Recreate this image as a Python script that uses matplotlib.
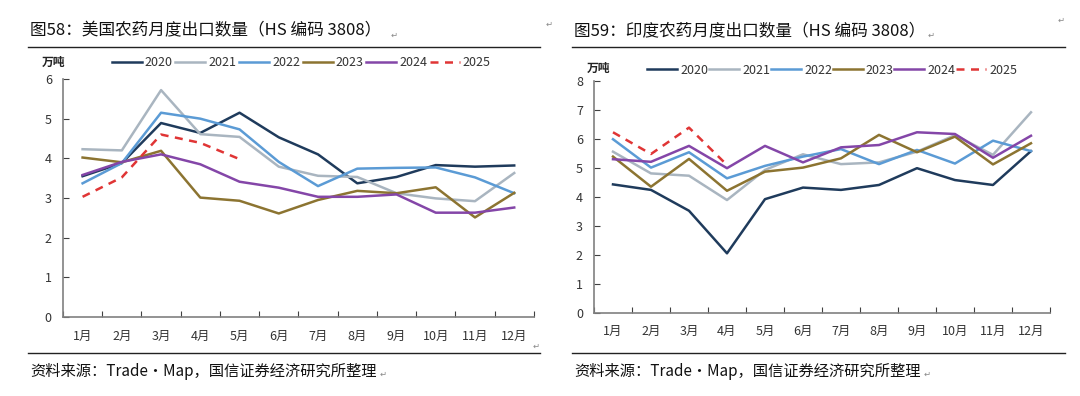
import matplotlib.pyplot as plt
from matplotlib.lines import Line2D

plt.rcParams['font.family'] = ['Noto Sans CJK SC', 'DejaVu Sans']

months = ['1月', '2月', '3月', '4月', '5月', '6月', '7月', '8月', '9月', '10月', '11月', '12月']
years = ['2020', '2021', '2022', '2023', '2024', '2025']

# 美国 (万吨)
us_2020 = [3.55, 3.88, 4.89, 4.64, 5.15, 4.53, 4.10, 3.37, 3.53, 3.83, 3.79, 3.82]
us_2021 = [4.23, 4.20, 5.72, 4.61, 4.54, 3.79, 3.56, 3.53, 3.12, 2.99, 2.92, 3.63]
us_2022 = [3.37, 3.88, 5.15, 5.00, 4.73, 3.91, 3.30, 3.74, 3.76, 3.77, 3.52, 3.12]
us_2023 = [4.02, 3.90, 4.19, 3.01, 2.93, 2.61, 2.95, 3.18, 3.12, 3.27, 2.51, 3.13]
us_2024 = [3.58, 3.91, 4.10, 3.85, 3.41, 3.26, 3.03, 3.03, 3.09, 2.63, 2.63, 2.76]
us_2025 = [3.03, 3.52, 4.60, 4.39, 3.98]

# 印度 (万吨)
in_2020 = [4.43, 4.24, 3.52, 2.05, 3.92, 4.32, 4.24, 4.41, 4.99, 4.58, 4.41, 5.58]
in_2021 = [5.56, 4.81, 4.73, 3.89, 4.93, 5.47, 5.13, 5.19, 5.56, 6.13, 5.45, 6.92]
in_2022 = [5.99, 5.01, 5.54, 4.64, 5.07, 5.39, 5.65, 5.13, 5.62, 5.15, 5.94, 5.58]
in_2023 = [5.39, 4.35, 5.31, 4.21, 4.87, 5.01, 5.33, 6.14, 5.54, 6.08, 5.12, 5.85]
in_2024 = [5.30, 5.21, 5.76, 4.99, 5.76, 5.19, 5.71, 5.79, 6.23, 6.17, 5.35, 6.11]
in_2025 = [6.23, 5.48, 6.39, 5.10]

colors = ['#1f3b5c', '#a9b5c0', '#5b9bd5', '#8c7431', '#8446a8', '#e03535']
styles = ['-', '-', '-', '-', '-', (0, (3.2, 2.6))]

us_series = [us_2020, us_2021, us_2022, us_2023, us_2024, us_2025]
in_series = [in_2020, in_2021, in_2022, in_2023, in_2024, in_2025]

fig = plt.figure(figsize=(10.8, 3.96), dpi=100)
ax1 = fig.add_axes([0.0583, 0.1995, 0.436, 0.601])
ax2 = fig.add_axes([0.55, 0.2104, 0.4222, 0.585])


def draw(ax, series, ymax):
    for vals, c, ls in zip(series, colors, styles):
        x = list(range(1, len(vals) + 1))
        ax.plot(x, vals, color=c, lw=1.8, ls=ls)
    ax.set_xlim(0.5, 12.5)
    ax.set_ylim(0, ymax)
    ax.set_yticks(range(0, ymax + 1))
    ax.set_xticks([i + 0.5 for i in range(13)])
    ax.set_xticklabels([])
    ax.set_xticks(range(1, 13), minor=True)
    ax.set_xticklabels(months, minor=True)
    ax.tick_params(axis='x', which='major', direction='in', length=4, color='#404040')
    ax.tick_params(axis='x', which='minor', length=0, pad=9, labelsize=9, labelcolor='#333333')
    ax.tick_params(axis='y', direction='in', length=4, pad=8, labelsize=9,
                   labelcolor='#333333', color='#404040')
    for s in ['top', 'right']:
        ax.spines[s].set_visible(False)
    for s in ['left', 'bottom']:
        ax.spines[s].set_color('#808080')
        ax.spines[s].set_linewidth(1.2)


draw(ax1, us_series, 6)
draw(ax2, in_series, 8)

handles = [Line2D([], [], color=c, lw=1.8, ls=ls) for c, ls in zip(colors, styles)]
fig.legend(handles, years, loc='center left', bbox_to_anchor=(0.093, 1 - 63 / 396), ncol=6,
           frameon=False, fontsize=9, handlelength=2.4, handletextpad=0.25, columnspacing=0.2,
           labelcolor='#333333')
fig.legend(handles, years, loc='center left', bbox_to_anchor=(0.589, 1 - 70 / 396), ncol=6,
           frameon=False, fontsize=9, handlelength=2.4, handletextpad=0.25, columnspacing=0.05,
           labelcolor='#333333')

fig.text(42 / 1080, 1 - 62 / 396, '万吨', fontsize=8.5, fontweight='bold', va='center', color='#222222')
fig.text(587 / 1080, 1 - 68 / 396, '万吨', fontsize=8.5, fontweight='bold', va='center', color='#222222')

# titles and notes
fig.text(30 / 1080, 1 - 31 / 396, '图58：美国农药月度出口数量（HS 编码 3808）', fontsize=12,
         va='center', color='#111111')
fig.text(574 / 1080, 1 - 31 / 396, '图59：印度农药月度出口数量（HS 编码 3808）', fontsize=12,
         va='center', color='#111111')
fig.text(30 / 1080, 1 - 371 / 396, '资料来源：Trade·Map，国信证券经济研究所整理', fontsize=11,
         va='center', color='#111111')
fig.text(574 / 1080, 1 - 371 / 396, '资料来源：Trade·Map，国信证券经济研究所整理', fontsize=11,
         va='center', color='#111111')

# paragraph marks
for px, py in [(391, 35), (928, 35), (380, 374), (924, 374), (546, 24), (1058, 20), (533, 346)]:
    fig.text(px / 1080, 1 - py / 396, '↵', fontsize=6, va='center', color='#888888',
             family=['DejaVu Sans'])

for x0, x1 in [(28, 540), (572, 1065)]:
    fig.add_artist(Line2D([x0 / 1080, x1 / 1080], [1 - 47 / 396] * 2, color='#222222', lw=1.0))
    fig.add_artist(Line2D([x0 / 1080, x1 / 1080], [1 - 353 / 396] * 2, color='#222222', lw=1.0))

fig.savefig('out.png', dpi=100, facecolor='white')
